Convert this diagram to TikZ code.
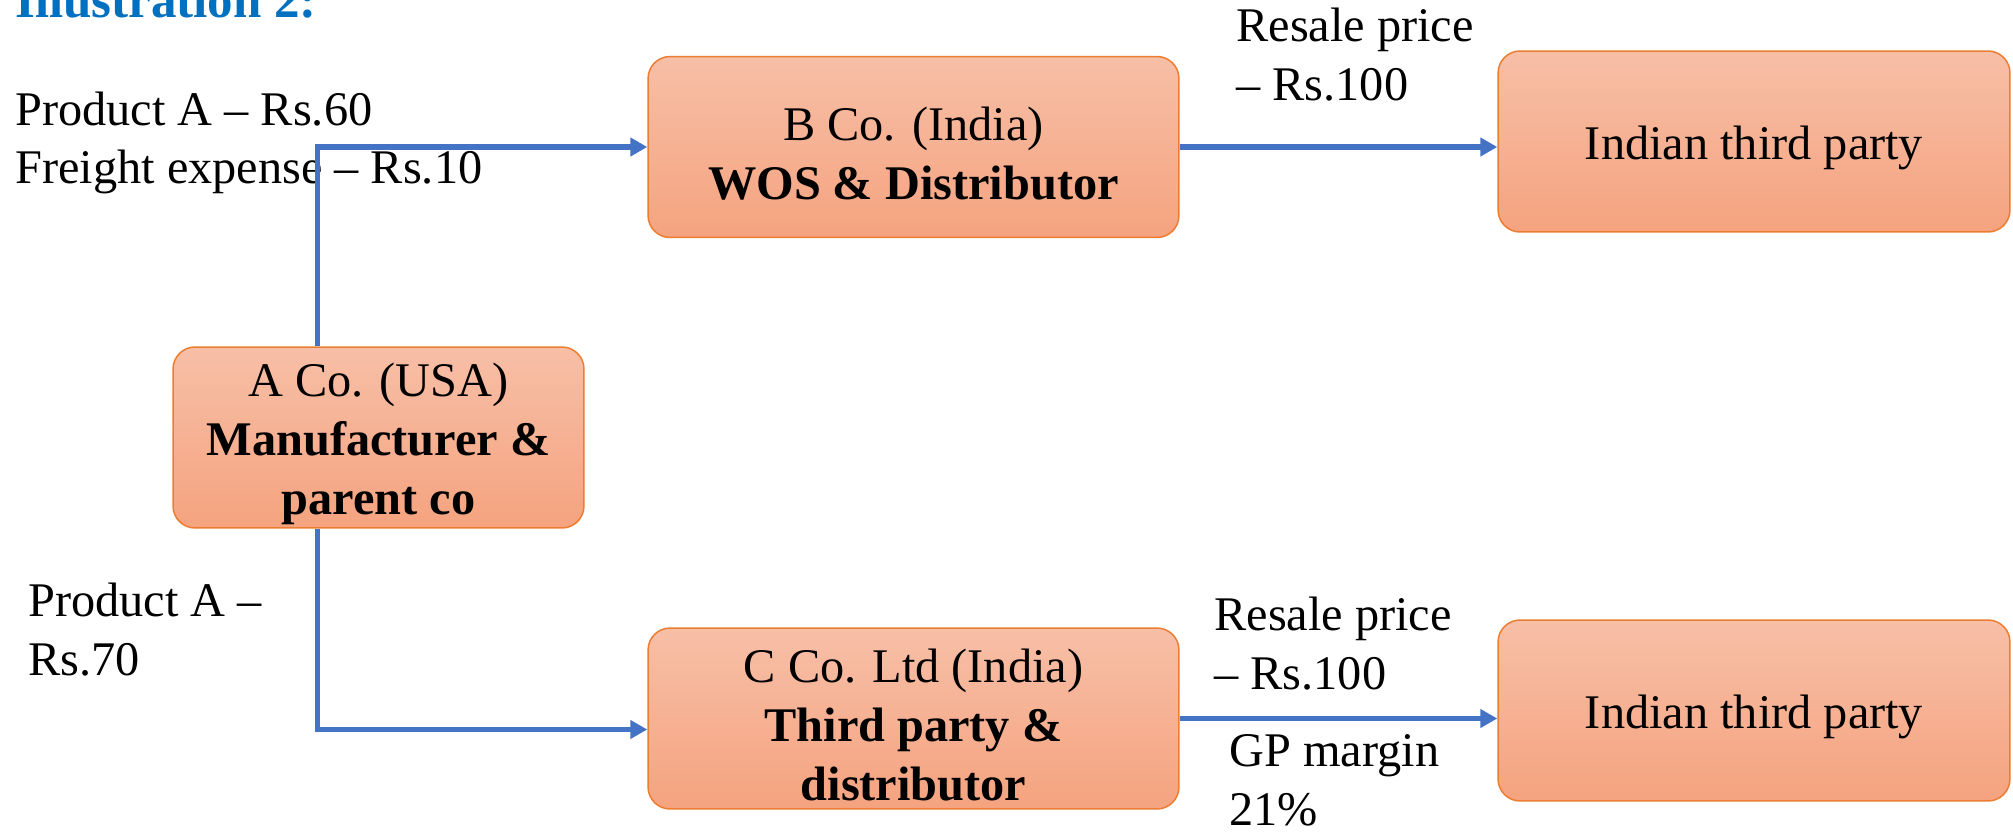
\documentclass[tikz,border=0pt]{standalone}
\usepackage{fontspec}
\setmainfont{Liberation Serif}
\usetikzlibrary{arrows.meta}
\definecolor{flowblue}{HTML}{4472C4}
\definecolor{titleblue}{HTML}{0070C0}
\definecolor{boxedge}{HTML}{ED7D31}
\definecolor{boxtop}{HTML}{F7BFA7}
\definecolor{boxbottom}{HTML}{F5A37F}
\newcommand{\bigtext}{\fontsize{27.5}{33.5}\selectfont}
\newcommand{\boxstrut}{\rule{0pt}{0.95em}}% pushes box text a bit down
\tikzset{
  cobox/.style={draw=boxedge, line width=0.03cm, rounded corners=0.44cm,
    top color=boxtop, bottom color=boxbottom, align=center, font=\bigtext,
    inner sep=0pt, minimum height=3.62cm},
  flow/.style={draw=flowblue, line width=0.11cm,
    -{Triangle[length=0.34cm,width=0.36cm]}},
  note/.style={anchor=west, align=left, inner sep=0pt, font=\bigtext}
}

\begin{document}
\begin{tikzpicture}[x=0.02cm,y=-0.02cm]
      \clip (0,0) rectangle (2013,831);% page size of the slide
      \node[anchor=base west, inner sep=0pt, text=titleblue,
        font=\fontsize{29}{34}\selectfont\bfseries] (title) at (15,18) {Illustration 2:};

      % the companies
      \node[cobox, minimum width=8.22cm] (aco) at (378.5,437.5)
        {\boxstrut A Co. (USA)\\\textbf{Manufacturer \&}\\\textbf{parent co}};
      \node[cobox, minimum width=10.62cm] (bco) at (913.5,147)
        {\boxstrut B Co. (India)\\\textbf{WOS \& Distributor}};
      \node[cobox, minimum width=10.62cm] (cco) at (913.5,718.5)
        {\boxstrut C Co. Ltd (India)\\\textbf{Third party \&}\\\textbf{distributor}};
      \node[cobox, minimum width=10.24cm] (topbuyer) at (1754,141.5) {\boxstrut Indian third party};
      \node[cobox, minimum width=10.24cm] (lowbuyer) at (1754,710.5) {\boxstrut Indian third party};

      % prices on the flows
      \node[note] (price60) at (15,143) {Product A – Rs.60\\Freight expense – Rs.10};
      \node[note] (price70) at (28,630) {Product A –\\Rs.70};
      \node[note] (resaleb) at (1236,54.5) {Resale price\\– Rs.100};
      \node[note] (resalec) at (1214,644) {Resale price\\– Rs.100};
      \node[note] (margin) at (1229,780) {GP margin\\21\%};

      \draw[flow] ([xshift=2.9cm]aco.north west) |- (bco.west);
      \draw[flow] ([xshift=2.9cm]aco.south west) |- ([yshift=-0.22cm]cco.west);
      \draw[flow] (bco.east) -- (bco.east -| topbuyer.west);
      \draw[flow] (cco.east) -- (cco.east -| lowbuyer.west);
\end{tikzpicture}
\end{document}
